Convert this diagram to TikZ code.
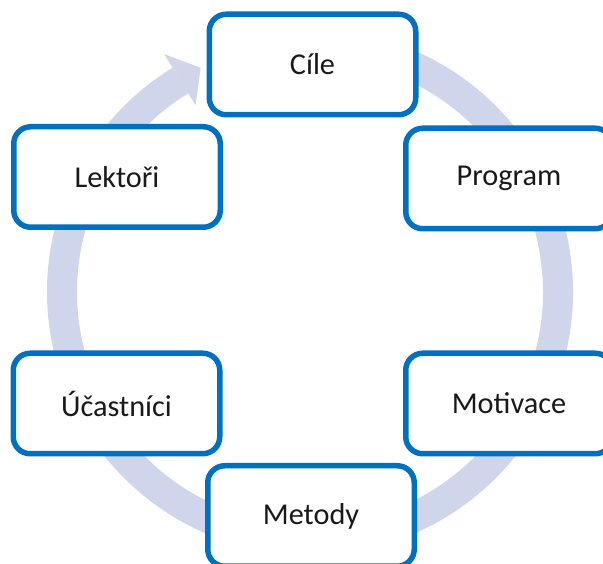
\documentclass[tikz,border=0pt]{standalone}
\usepackage{fontspec}
\setmainfont{Carlito}
\definecolor{boxblue}{HTML}{0070C0}
\definecolor{ringcol}{HTML}{CFD5EA}
\tikzset{
  stage/.style={draw=boxblue, line width=5.5pt, fill=white, rounded corners=17pt,
    minimum width=206.5pt, minimum height=100.5pt, inner sep=0pt,
    font=\fontsize{30.3}{36}\selectfont, text=black!90},
  ring/.style={draw=ringcol, line width=30pt},
  ringhead/.style={fill=ringcol}
}
\begin{document}
\begin{tikzpicture}[x=1pt, y=1pt]
  \useasboundingbox (0,0) rectangle (603,564);
  \clip (0,0) rectangle (603,564);
  \fill[white] (0,0) rectangle (603,564);
  \coordinate (c) at (310,272);
  % cycle ring with its arrow head, running clockwise
  \begin{scope}[shift={(c)}]
    \draw[ring] (95:248) arc[start angle=95, end angle=-238.5, radius=248];
    \fill[ringhead] (121.5:279) -- (116:249.5) -- (121.5:219) -- cycle;
  \end{scope}
  % stages
  \node[stage] (cile) at (312.5,499.5) {Cíle};
  \node[stage] (program) at (509,385.5) {Program};
  \node[stage] (motivace) at (509,160.5) {Motivace};
  \node[stage] (metody) at (311,48) {Metody};
  \node[stage] (ucastnici) at (116.5,160.5) {Účastníci};
  \node[stage] (lektori) at (117,387) {Lektoři};
\end{tikzpicture}
\end{document}
